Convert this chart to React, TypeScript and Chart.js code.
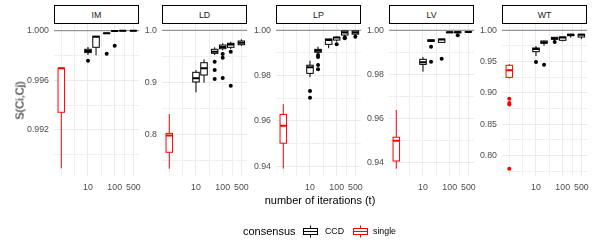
import React, { useEffect, useRef } from "react";
import { Chart, registerables } from "chart.js";

Chart.register(...registerables);

// ---------- data ----------
const iterations = [1, 10, 20, 50, 100, 200, 500];
const methods = ["single", "CCD", "CCD", "CCD", "CCD", "CCD", "CCD"];
const xMajorTicks = [10, 100, 500];
const xMinorLogTicks = [0, 0.5, 1.5, 2.35];

const panelNames = ["IM", "LD", "LP", "LV", "WT"];

// five-number summaries [lower whisker, q1, median, q3, upper whisker] per iteration count
const IM_stats = [
  [0.9889, 0.99342, 0.99697, 0.99697, 0.99697],
  [0.99804, 0.99823, 0.99836, 0.9985, 0.99869],
  [0.99802, 0.99866, 0.99952, 0.99955, 0.99955],
  [0.99976, 0.99977, 0.99979, 0.9998, 0.99982],
  [0.99994, 0.99995, 0.99997, 0.99998, 0.99999],
  [0.99999, 0.99999, 1.0, 1.0, 1.0],
  [0.99999, 0.99999, 1.0, 1.0, 1.0],
];
const IM_outliers = [[10, 0.99758], [50, 0.99815], [100, 0.99879]];
const IM_yTicks = [0.992, 0.996, 1.0];
const IM_yMinor = [0.99, 0.994, 0.998];
const IM_yRange = [0.98832, 1.00054];

const LD_stats = [
  [0.7338, 0.7654, 0.7975, 0.8019, 0.839],
  [0.8808, 0.9006, 0.9077, 0.9192, 0.9237],
  [0.8992, 0.914, 0.9269, 0.9377, 0.9442],
  [0.9525, 0.9558, 0.9588, 0.9635, 0.9673],
  [0.962, 0.9646, 0.968, 0.9717, 0.975],
  [0.964, 0.9673, 0.9727, 0.975, 0.978],
  [0.97, 0.9723, 0.9762, 0.9794, 0.9827],
];
const LD_outliers = [
  [50, 0.9396], [50, 0.9237], [50, 0.9063],
  [100, 0.9544], [100, 0.9473], [100, 0.9083],
  [200, 0.9588], [200, 0.8935],
];
const LD_yTicks = [0.8, 0.9, 1.0];
const LD_yMinor = [0.75, 0.85, 0.95];
const LD_yRange = [0.72077, 1.01212];

const LP_stats = [
  [0.939, 0.9502, 0.9579, 0.9629, 0.9674],
  [0.9793, 0.981, 0.9837, 0.9846, 0.9866],
  [0.99, 0.9903, 0.991, 0.9916, 0.9928],
  [0.9921, 0.9938, 0.9957, 0.9962, 0.9962],
  [0.995, 0.9957, 0.9968, 0.9969, 0.9972],
  [0.9972, 0.9979, 0.999, 0.9997, 0.9999],
  [0.9978, 0.9983, 0.999, 0.9997, 0.9999],
];
const LP_outliers = [
  [10, 0.9732], [10, 0.9703],
  [20, 0.9891], [20, 0.9882], [20, 0.9847], [20, 0.9828],
  [100, 0.9938], [200, 0.9968], [200, 0.9965], [500, 0.9972],
];
const LP_yTicks = [0.94, 0.96, 0.98, 1.0];
const LP_yMinor = [0.95, 0.97, 0.99];
const LP_yRange = [0.93595, 1.00278];

const LV_stats = [
  [0.9371, 0.9406, 0.9498, 0.9514, 0.9638],
  [0.9812, 0.9845, 0.9855, 0.9868, 0.9879],
  [0.9948, 0.995, 0.9953, 0.9957, 0.9958],
  [0.9945, 0.9945, 0.9958, 0.996, 0.996],
  [0.9988, 0.9989, 0.9991, 0.9992, 0.9993],
  [0.9986, 0.9989, 0.9991, 0.9993, 0.9995],
  [0.9991, 0.9992, 0.9992, 0.9993, 0.9994],
];
const LV_outliers = [[20, 0.9925], [20, 0.9857], [50, 0.9871], [200, 0.9977]];
const LV_yTicks = [0.94, 0.96, 0.98, 1.0];
const LV_yMinor = [0.95, 0.97, 0.99];
const LV_yRange = [0.934, 1.00286];

const WT_stats = [
  [0.923, 0.9249, 0.9361, 0.9441, 0.9462],
  [0.9589, 0.9658, 0.9701, 0.9717, 0.9749],
  [0.9754, 0.9792, 0.981, 0.9829, 0.9835],
  [0.983, 0.9856, 0.987, 0.9888, 0.9893],
  [0.9824, 0.984, 0.9885, 0.9893, 0.9895],
  [0.9882, 0.9914, 0.993, 0.9936, 0.994],
  [0.986, 0.9893, 0.993, 0.9936, 0.9938],
];
const WT_outliers = [
  [1, 0.8907], [1, 0.884], [1, 0.8815], [1, 0.7789],
  [10, 0.9494], [20, 0.945], [50, 0.9812],
];
const WT_yTicks = [0.8, 0.85, 0.9, 0.95, 1.0];
const WT_yMinor = [0.775, 0.825, 0.875, 0.925, 0.975];
const WT_yRange = [0.76805, 1.01006];

const yDigits = [3, 1, 2, 2, 2];
const xRange = [-0.273, 2.91];

// ---------- style ----------
const FONT = '"Liberation Sans", Arial, Helvetica, sans-serif';
const COLORS: Record<string, string> = { CCD: "#000000", single: "#FF0000" };
const TICK_COLOR = "#4D4D4D";
const GRID = "#EBEBEB";
const GRID_MINOR = "#EFEFEF";
const BOX_HALF = 0.122; // half box width in log10 units
const PANEL_LEFTS = [54, 162, 276, 389, 502];
const PANEL_W = 85;
const AXIS_W = 45;
const PAD_R = 14;
const CANVAS_H = 200;
const AREA_TOP = 24;
const AREA_BOTTOM = 175.5;

type Stat = number[];

const boxPlugin = {
  id: "boxes",
  beforeDatasetsDraw(chart: any, _args: any, opts: any) {
    const { ctx, chartArea, scales } = chart;
    const x = scales.x;
    const y = scales.y;
    ctx.save();
    ctx.beginPath();
    ctx.rect(chartArea.left, chartArea.top, chartArea.right - chartArea.left, chartArea.bottom - chartArea.top);
    ctx.clip();
    // reference line at 1
    const y1 = y.getPixelForValue(1);
    ctx.strokeStyle = "#7F7F7F";
    ctx.lineWidth = 1;
    ctx.beginPath();
    ctx.moveTo(chartArea.left, y1);
    ctx.lineTo(chartArea.right, y1);
    ctx.stroke();
    (opts.stats as Stat[]).forEach((s, i) => {
      const lx = Math.log10(iterations[i]);
      const xc = x.getPixelForValue(lx);
      const xl = x.getPixelForValue(lx - BOX_HALF);
      const xr = x.getPixelForValue(lx + BOX_HALF);
      const [lo, q1, med, q3, hi] = s.map((v) => y.getPixelForValue(v));
      const col = COLORS[methods[i]];
      ctx.strokeStyle = col;
      ctx.lineWidth = 1;
      ctx.beginPath();
      ctx.moveTo(xc, q3);
      ctx.lineTo(xc, hi);
      ctx.moveTo(xc, q1);
      ctx.lineTo(xc, lo);
      ctx.stroke();
      ctx.fillStyle = "#FFFFFF";
      ctx.fillRect(xl, q3, xr - xl, q1 - q3);
      ctx.strokeRect(xl, q3, xr - xl, q1 - q3);
      ctx.lineWidth = 2;
      ctx.beginPath();
      ctx.moveTo(xl, med);
      ctx.lineTo(xr, med);
      ctx.stroke();
    });
    ctx.restore();
  },
};

type PanelProps = {
  name: string;
  stats: Stat[];
  outliers: number[][];
  yTicks: number[];
  yMinor: number[];
  yRange: number[];
  digits: number;
  left: number;
};

function Panel(p: PanelProps) {
  const ref = useRef<HTMLCanvasElement | null>(null);
  useEffect(() => {
    if (!ref.current) return;
    const xMajorLog = xMajorTicks.map((t) => Math.log10(t));
    const xAll = [...xMinorLogTicks, ...xMajorLog].sort((a, b) => a - b);
    const yAll = [...p.yMinor, ...p.yTicks].sort((a, b) => a - b);
    const isMajorX = (v: number) => xMajorLog.some((m) => Math.abs(m - v) < 1e-6);
    const isMajorY = (v: number) => p.yTicks.some((m) => Math.abs(m - v) < 1e-9);
    const chart = new Chart(ref.current, {
      type: "scatter",
      data: {
        datasets: [
          {
            data: p.outliers.map(([it, v]) => ({ x: Math.log10(it), y: v })),
            pointBackgroundColor: p.outliers.map(([it]) => COLORS[methods[iterations.indexOf(it)]]),
            pointBorderWidth: 0,
            pointRadius: 2,
            showLine: false,
          } as any,
        ],
      },
      options: {
        animation: false,
        responsive: false,
        devicePixelRatio: 1,
        events: [],
        layout: { padding: { top: AREA_TOP, right: PAD_R, left: 0, bottom: 0 } },
        plugins: {
          legend: { display: false },
          tooltip: { enabled: false },
          boxes: { stats: p.stats },
        } as any,
        scales: {
          x: {
            type: "linear",
            min: xRange[0],
            max: xRange[1],
            afterFit: (s: any) => {
              s.height = CANVAS_H - AREA_BOTTOM;
            },
            afterBuildTicks: (s: any) => {
              s.ticks = xAll.map((v) => ({ value: v }));
            },
            ticks: {
              autoSkip: false,
              maxRotation: 0,
              minRotation: 0,
              padding: 6.5,
              color: TICK_COLOR,
              font: { family: FONT, size: 8.8 },
              callback: (v: any) => {
                const i = xMajorLog.findIndex((m) => Math.abs(m - v) < 1e-6);
                return i >= 0 ? String(xMajorTicks[i]) : "";
              },
            },
            grid: {
              drawTicks: false,
              color: (c: any) => (isMajorX(c.tick.value) ? GRID : GRID_MINOR),
              lineWidth: 1,
            },
            border: { display: false },
          },
          y: {
            type: "linear",
            min: p.yRange[0],
            max: p.yRange[1],
            afterFit: (s: any) => {
              s.width = AXIS_W;
            },
            afterBuildTicks: (s: any) => {
              s.ticks = yAll.map((v) => ({ value: v }));
            },
            ticks: {
              autoSkip: false,
              padding: 5,
              color: TICK_COLOR,
              font: { family: FONT, size: 8.8 },
              callback: (v: any) => (isMajorY(v) ? Number(v).toFixed(p.digits) : ""),
            },
            grid: {
              drawTicks: false,
              color: (c: any) => (isMajorY(c.tick.value) ? GRID : GRID_MINOR),
              lineWidth: 1,
            },
            border: { display: false },
          },
        },
      },
      plugins: [boxPlugin as any],
    });
    return () => chart.destroy();
  }, []);
  return (
    <>
      <canvas
        ref={ref}
        width={AXIS_W + PANEL_W + PAD_R}
        height={CANVAS_H}
        style={{ position: "absolute", left: p.left - AXIS_W, top: 0, width: AXIS_W + PANEL_W + PAD_R, height: CANVAS_H }}
      />
      <div
        style={{
          position: "absolute",
          left: p.left,
          top: 5,
          width: PANEL_W,
          height: 19,
          boxSizing: "border-box",
          border: "1px solid #000",
          background: "#fff",
          font: `8.8px ${FONT}`,
          color: "#1A1A1A",
          lineHeight: "18px",
          textAlign: "center",
        }}
      >
        {p.name}
      </div>
    </>
  );
}

function LegendKey({ color }: { color: string }) {
  return (
    <svg width={17} height={13} style={{ display: "block" }}>
      <line x1={8.5} y1={0.5} x2={8.5} y2={3.5} stroke={color} strokeWidth={1} />
      <line x1={8.5} y1={9.5} x2={8.5} y2={12.5} stroke={color} strokeWidth={1} />
      <rect x={1.5} y={3.5} width={14} height={6} fill="#fff" stroke={color} strokeWidth={1} />
      <line x1={1.5} y1={6.5} x2={15.5} y2={6.5} stroke={color} strokeWidth={1} />
    </svg>
  );
}

export default function App() {
  const statsList = [IM_stats, LD_stats, LP_stats, LV_stats, WT_stats];
  const outList = [IM_outliers, LD_outliers, LP_outliers, LV_outliers, WT_outliers];
  const tickList = [IM_yTicks, LD_yTicks, LP_yTicks, LV_yTicks, WT_yTicks];
  const minorList = [IM_yMinor, LD_yMinor, LP_yMinor, LV_yMinor, WT_yMinor];
  const rangeList = [IM_yRange, LD_yRange, LP_yRange, LV_yRange, WT_yRange];
  const text = (extra: any) => ({ position: "absolute" as const, whiteSpace: "nowrap" as const, fontFamily: FONT, ...extra });
  return (
    <div style={{ position: "absolute", left: 0, top: 0, width: 600, height: 250, background: "#fff", overflow: "hidden" }}>
      {panelNames.map((n, i) => (
        <Panel
          key={n}
          name={n}
          stats={statsList[i]}
          outliers={outList[i]}
          yTicks={tickList[i]}
          yMinor={minorList[i]}
          yRange={rangeList[i]}
          digits={yDigits[i]}
          left={PANEL_LEFTS[i]}
        />
      ))}
      <div
        style={text({
          left: 19.5 - 50,
          top: 100 - 6.5,
          width: 100,
          height: 13,
          lineHeight: "13px",
          fontSize: 11,
          textAlign: "center",
          transform: "rotate(-90deg)",
          color: "#000",
        })}
      >
        S(Ci,Cj)
      </div>
      <div style={text({ left: 220, width: 200, top: 193.7, lineHeight: "13px", fontSize: 11, textAlign: "center", color: "#000" })}>
        number of iterations (t)
      </div>
      <div style={text({ left: 243, top: 224.7, lineHeight: "13px", fontSize: 11, color: "#000" })}>consensus</div>
      <div style={{ position: "absolute", left: 302, top: 224.5 }}>
        <LegendKey color={COLORS.CCD} />
      </div>
      <div style={text({ left: 325, top: 226, lineHeight: "11px", fontSize: 8.8, color: "#000" })}>CCD</div>
      <div style={{ position: "absolute", left: 352, top: 224.5 }}>
        <LegendKey color={COLORS.single} />
      </div>
      <div style={text({ left: 373, top: 226, lineHeight: "11px", fontSize: 8.8, color: "#000" })}>single</div>
    </div>
  );
}
